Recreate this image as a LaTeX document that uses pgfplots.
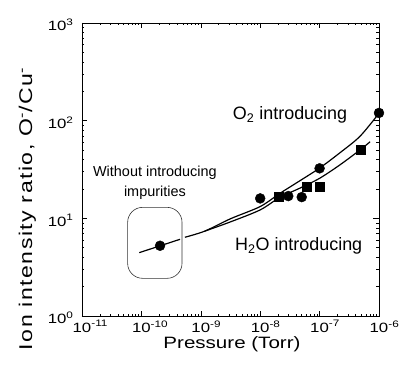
\documentclass[border=0pt]{standalone}
\usepackage{fontspec}
\setmainfont{Liberation Sans}
\newfontfamily\axfont[FakeStretch=1.25]{Liberation Sans}
\newfontfamily\ylfont[FakeStretch=1.25, LetterSpace=8]{Liberation Sans}
\usepackage{pgfplots}
\pgfplotsset{compat=1.18}
\begin{document}
\begin{tikzpicture}
\useasboundingbox (0bp,0bp) rectangle (405bp,370bp);
\begin{axis}[
  at={(82bp,54bp)}, anchor=south west,
  width=297bp, height=293bp, scale only axis,
  xmode=log, ymode=log,
  xmin=1e-11, xmax=1e-6, ymin=1, ymax=1000,
  tick align=inside, xtick pos=both, ytick pos=both,
  major tick length=5.5bp, minor tick length=2.5bp,
  tick style={black, line width=0.5pt},
  axis line style={line width=0.8pt},
  log number format basis/.code 2 args={#1\rlap{\textsuperscript{\pgfmathprintnumber{#2}}}},
  /pgf/number format/assume math mode=true,
  ticklabel style={font=\axfont\fontsize{13.5}{15}\selectfont},
  xticklabel style={yshift=-1bp},
  yticklabel style={xshift=-12bp, yshift=-2bp},
  xlabel={Pressure (Torr)},
  xlabel style={at={(axis description cs:0.505,-0.1126)}, anchor=base, font=\axfont\fontsize{16.5}{20}\selectfont},
  ylabel={Ion intensity ratio, O\textsuperscript{-}/Cu\textsuperscript{-}},
  ylabel style={at={(axis description cs:-0.168,0.365)}, anchor=base, font=\ylfont\fontsize{18.5}{20}\selectfont},
  clip=false,
]
% fitted curves
\addplot[black, line width=1.2pt] coordinates {(9.2e-11,4.45) (2e-10,5.2) (4.47e-10,6.1)};
\addplot[black, line width=1.2pt, smooth] coordinates {
 (5.4e-10,6.4) (1.17e-9,7.4) (3.16e-9,9.9) (1e-8,13.2) (2.14e-8,18.0)
 (4.68e-8,24.3) (1e-7,32.7) (2.19e-7,46.8) (4.79e-7,69.2) (1e-6,119)};
\addplot[black, line width=1.2pt, smooth] coordinates {
 (1.17e-9,7.4) (3.16e-9,9.2) (1e-8,12.2) (2.14e-8,16.4) (4.68e-8,20.4)
 (1e-7,25.7) (2.19e-7,35.2) (4.79e-7,50.1) (7.08e-7,60.8)};
% O2 data (circles)
\addplot[only marks, mark=*, mark size=5, black] coordinates {
 (2.06e-10,5.24) (1e-8,16.0) (2.97e-8,16.9) (5e-8,16.5) (1e-7,32.5) (1e-6,120)};
% H2O data (squares)
\addplot[only marks, mark=square*, mark size=4.5, black] coordinates {
 (2.02e-8,16.6) (6.07e-8,21) (9.9e-8,21) (4.98e-7,50)};
% box around the no-impurity point
\draw[black!80, line width=0.6pt, rounded corners=15bp] (axis cs:5.87e-11,2.43) rectangle (axis cs:4.83e-10,12.96);
% annotations
\node[anchor=base, font=\fontsize{18}{20}\selectfont] at (axis cs:3.18e-8,103) {O\textsubscript{2} introducing};
\node[anchor=base, font=\fontsize{18}{20}\selectfont] at (axis cs:4.45e-8,4.66) {H\textsubscript{2}O introducing};
\node[anchor=base, font=\fontsize{14.5}{16}\selectfont] at (axis cs:1.69e-10,26.7) {Without introducing};
\node[anchor=base, font=\fontsize{14.5}{16}\selectfont] at (axis cs:1.69e-10,16.6) {impurities};
\end{axis}
\end{tikzpicture}
\end{document}
